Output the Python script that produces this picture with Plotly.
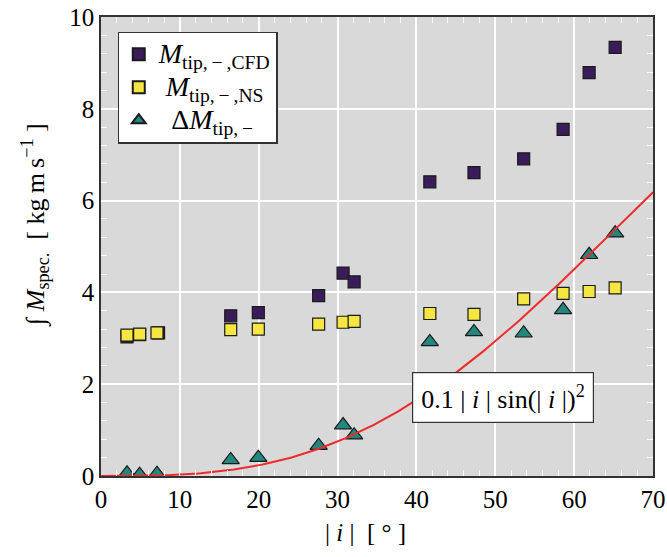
import numpy as np
import plotly.graph_objects as go

# angle |i| in degrees
i_cfd = [3.3, 4.9, 7.3, 16.45, 19.95, 27.6, 30.7, 32.1, 41.7, 47.3, 53.6, 58.6, 61.9, 65.2]
m_cfd = [3.03, 3.08, 3.12, 3.49, 3.56, 3.93, 4.42, 4.23, 6.41, 6.61, 6.91, 7.55, 8.79, 9.34]

i_ns = [3.3, 4.9, 7.1, 16.45, 19.95, 27.6, 30.7, 32.1, 41.7, 47.3, 53.6, 58.6, 61.9, 65.2]
m_ns = [3.07, 3.09, 3.12, 3.19, 3.20, 3.31, 3.35, 3.37, 3.54, 3.52, 3.86, 3.98, 4.02, 4.10]

i_delta = [3.3, 4.9, 7.1, 16.45, 19.95, 27.6, 30.7, 32.1, 41.7, 47.3, 53.6, 58.6, 61.9, 65.2]
m_delta = [0.06, 0.03, 0.05, 0.35, 0.40, 0.66, 1.11, 0.89, 2.92, 3.14, 3.11, 3.62, 4.82, 5.29]

# fitted curve: 0.1 |i| sin(|i|)^2
fit_coef = 0.1
i_fit = np.linspace(0, 70, 200)
m_fit = fit_coef * i_fit * np.sin(np.radians(i_fit)) ** 2

x_ticks = [0, 10, 20, 30, 40, 50, 60, 70]
y_ticks = [0, 2, 4, 6, 8, 10]

FONT = "Liberation Serif"
PURPLE = "#3b1c5a"
YELLOW = "#f5e642"
TEAL = "#22877f"
EDGE = "#1a1a1a"
TS = "\u2009"


def leg(prefix, sub):
    return ("<span style='font-size:28px'>" + prefix + "<i>M</i><sub>" + sub + "</sub></span>")


fig = go.Figure()
fig.add_trace(go.Scatter(
    x=i_cfd, y=m_cfd, mode="markers",
    name=leg("", "tip," + TS + "−" + TS + ",CFD"),
    marker=dict(symbol="square", size=12, color=PURPLE, line=dict(color=EDGE, width=1.2)),
))
fig.add_trace(go.Scatter(
    x=i_ns, y=m_ns, mode="markers",
    name=leg(" ", "tip," + TS + "−" + TS + ",NS"),
    marker=dict(symbol="square", size=12, color=YELLOW, line=dict(color=EDGE, width=1.2)),
))
fig.add_trace(go.Scatter(
    x=i_delta, y=m_delta, mode="markers",
    name=leg("  Δ", "tip," + TS + "−"),
    marker=dict(symbol="triangle-up", size=15, color=TEAL, line=dict(color=EDGE, width=1.2)),
))
fig.add_trace(go.Scatter(
    x=i_fit, y=m_fit, mode="lines", showlegend=False,
    line=dict(color="#ee2a2a", width=2),
))

fig.add_annotation(
    x=50.95, y=1.70, xref="x", yref="y", showarrow=False,
    text="0.1 | <i>i</i> | sin(| <i>i</i> |)<sup>2</sup>",
    font=dict(family=FONT, size=26, color="black"),
    bgcolor="white", bordercolor="#333333", borderwidth=1.2, borderpad=8,
)
# axis titles
fig.add_annotation(
    x=0.48, y=-0.124, xref="paper", yref="paper", showarrow=False,
    xanchor="center", yanchor="middle",
    text="| <i>i</i> |  [ ° ]",
    font=dict(family=FONT, size=25, color="black"),
)
fig.add_annotation(
    x=-0.1196, y=0.547, xref="paper", yref="paper", showarrow=False,
    xanchor="center", yanchor="middle", textangle=-90,
    text="∫ <i>M</i><sub>spec.</sub>  [ kg" + TS + "m" + TS + "s<sup>−1</sup> ]",
    font=dict(family=FONT, size=26, color="black"),
)

axis_common = dict(
    showgrid=True, gridcolor="white", gridwidth=1.5,
    zeroline=False, automargin=False,
    showline=True, linecolor="#333333", linewidth=1.5, mirror="allticks",
    ticks="inside", ticklen=6, tickcolor="white", tickwidth=1.2,
    tickfont=dict(family=FONT, size=25, color="black"),
)

fig.update_layout(
    width=667, height=557,
    margin=dict(l=101, r=14, t=17, b=81),
    paper_bgcolor="white", plot_bgcolor="#d9d9d9",
    font=dict(family=FONT, color="black"),
    xaxis=dict(
        range=[0, 70], tickvals=x_ticks,
        minor=dict(dtick=2, ticks="inside", ticklen=6, tickcolor="white", showgrid=False),
        **axis_common,
    ),
    yaxis=dict(
        range=[0, 10], tickvals=y_ticks,
        minor=dict(dtick=0.4, ticks="inside", ticklen=6, tickcolor="white", showgrid=False),
        **axis_common,
    ),
    legend=dict(
        x=0.030, y=0.968, xanchor="left", yanchor="top",
        bgcolor="white", bordercolor="#333333", borderwidth=1.2,
        font=dict(family=FONT, size=23, color="black"),
        tracegroupgap=0, itemsizing="constant",
    ),
)

fig.write_html("out.html")
